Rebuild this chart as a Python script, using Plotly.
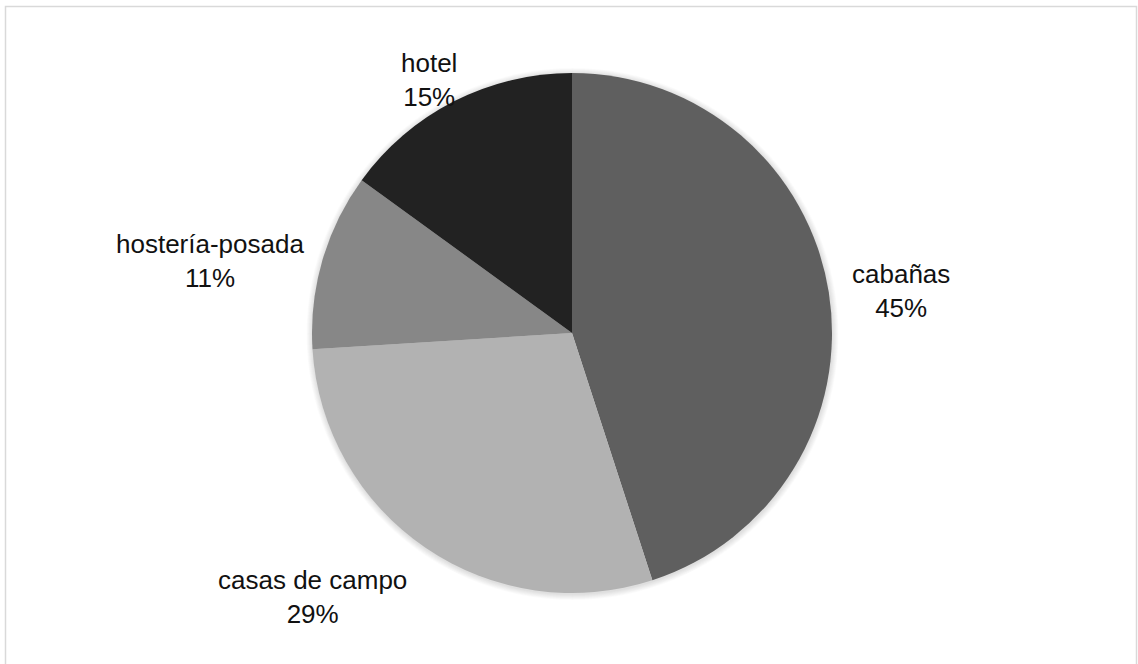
import plotly.graph_objects as go

# Lodging types and their share of establishments
categories = ["cabañas", "casas de campo", "hostería-posada", "hotel"]
values = [45, 29, 11, 15]
colors = ["#5f5f5f", "#b2b2b2", "#878787", "#222222"]

W, H = 1138, 664
cx, cy, r = 572, 333, 260  # pie centre and radius in pixels

# label anchor points (pixels) for each slice label
label_pos = [(901, 291), (312, 597), (210, 261), (429, 80)]


def px(x):
    return x / W


def py(y):
    return 1 - y / H


fig = go.Figure(
    go.Pie(
        labels=categories,
        values=values,
        sort=False,
        direction="clockwise",
        rotation=0,
        marker=dict(colors=colors, line=dict(width=0)),
        textinfo="none",
        hoverinfo="label+percent",
        showlegend=False,
        domain=dict(x=[px(cx - r), px(cx + r)], y=[py(cy + r), py(cy - r)]),
    )
)

total = sum(values)
annotations = []
for name, v, (lx, ly) in zip(categories, values, label_pos):
    annotations.append(
        dict(
            x=px(lx), y=py(ly), xref="paper", yref="paper",
            text=f"{name}<br>{round(100 * v / total)}%",
            showarrow=False, xanchor="center", yanchor="middle",
            align="center",
            font=dict(family="Liberation Sans, Arial, sans-serif", size=26, color="#111111"),
        )
    )

# soft glow shadow behind the pie
shapes = []
for k in range(1, 9):
    rr = r + k * 0.75
    shapes.append(
        dict(
            type="circle", xref="paper", yref="paper", layer="below",
            x0=px(cx + 0.5 - rr), x1=px(cx + 0.5 + rr),
            y0=py(cy + 1 + rr), y1=py(cy + 1 - rr),
            fillcolor="rgba(0,0,0,0.014)", line=dict(width=0),
        )
    )

# outer frame (bottom edge runs past the view)
shapes.append(
    dict(
        type="rect", xref="paper", yref="paper", layer="above",
        x0=px(5.5), x1=px(1136.5), y0=py(672), y1=py(6.5),
        line=dict(color="#d9d9d9", width=1.5), fillcolor="rgba(0,0,0,0)",
    )
)

fig.update_layout(
    width=W, height=H,
    margin=dict(l=0, r=0, t=0, b=0),
    paper_bgcolor="white",
    plot_bgcolor="white",
    annotations=annotations,
    shapes=shapes,
)

fig.write_html("out.html")
